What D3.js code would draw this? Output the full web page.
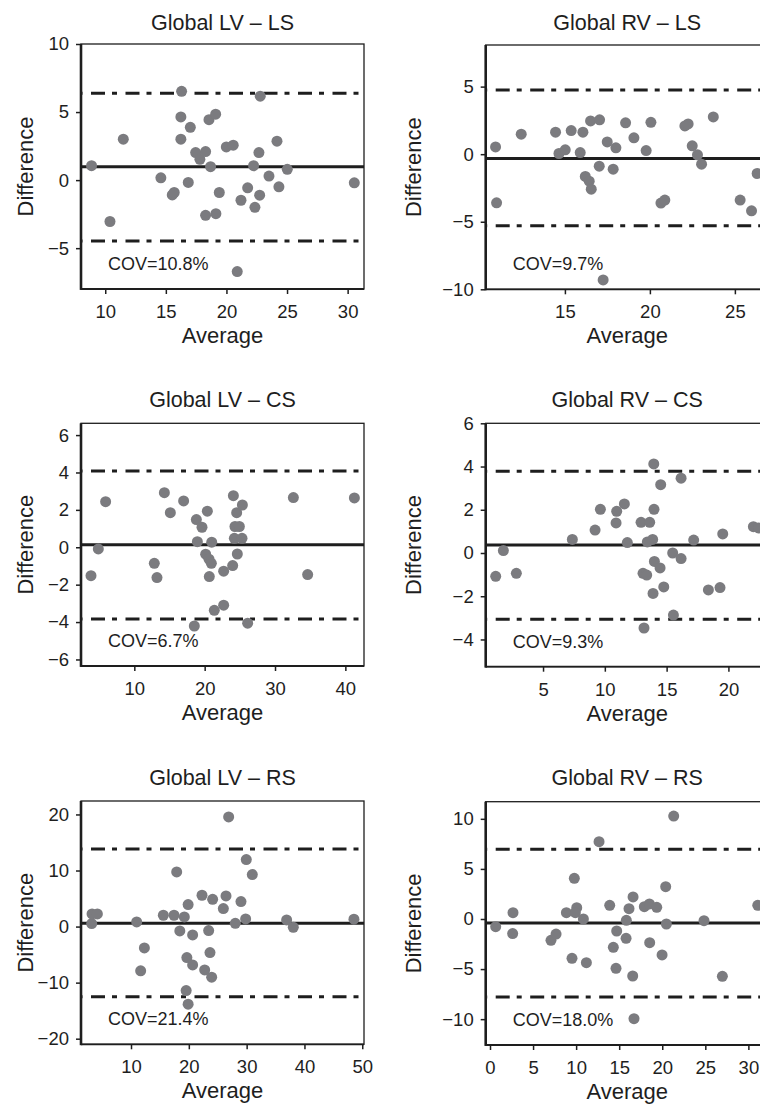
<!DOCTYPE html>
<html>
<head>
<meta charset="utf-8">
<script src="https://cdn.jsdelivr.net/npm/d3@7"></script>
<style>
html,body{margin:0;padding:0;background:#fff;overflow:hidden}
svg{display:block}
</style>
</head>
<body>
<svg id="chart" width="760" height="1105"></svg>
<script>
// ---------------- DATA ----------------
const panelTitles = ["Global LV \u2013 LS", "Global RV \u2013 LS", "Global LV \u2013 CS", "Global RV \u2013 CS", "Global LV \u2013 RS", "Global RV \u2013 RS"];
const covLabels = ["COV=10.8%", "COV=9.7%", "COV=6.7%", "COV=9.3%", "COV=21.4%", "COV=18.0%"];
const xAxisLabel = "Average";
const yAxisLabel = "Difference";

// Global LV - LS
const lvLsAvg  = [8.87,10.39,11.49,14.59,15.53,15.69,16.30,16.24,16.24,16.85,17.02,17.46,17.81,18.28,18.28,18.56,18.69,19.11,19.13,19.41,19.99,20.56,20.89,21.20,21.75,22.24,22.35,22.68,22.74,22.79,23.51,24.17,24.33,25.02,30.55];
const lvLsDiff = [1.06,-3.04,3.01,0.17,-1.09,-0.91,6.52,4.64,3.01,-0.17,3.88,2.02,1.53,2.10,-2.59,4.44,0.99,4.84,-2.47,-0.91,2.44,2.57,-6.72,-1.48,-0.57,1.06,-2.0,2.02,-1.11,6.17,0.30,2.86,-0.49,0.79,-0.20];
const lvLsLimits = [0.98, 6.39, -4.47]; // mean, upper, lower
const lvLsXTicks = [10,15,20,25,30];
const lvLsYTicks = [-5,0,5,10];

// Global RV - LS
const rvLsAvg  = [10.92,10.98,12.43,14.45,14.65,15.02,15.37,15.90,16.06,16.20,16.43,16.55,16.51,17.04,17.02,17.49,17.84,18.0,18.57,19.06,19.78,20.06,20.65,20.88,22.06,22.25,22.49,22.80,23.04,23.73,25.31,25.98,26.31,17.25];
const rvLsDiff = [0.54,-3.60,1.48,1.63,0.05,0.32,1.75,0.12,1.63,-1.65,-2.0,-2.59,2.46,2.54,-0.89,0.91,-1.11,0.47,2.32,1.21,0.27,2.36,-3.62,-3.40,2.09,2.24,0.62,-0.05,-0.74,2.76,-3.40,-4.19,-1.43,-9.31];
const rvLsLimits = [-0.32, 4.75, -5.30];
const rvLsXTicks = [15,20,25];
const rvLsYTicks = [-10,-5,0,5];

// Global LV - CS
const lvCsAvg  = [3.84,4.88,5.92,12.84,13.22,14.27,15.12,17.01,18.82,18.96,18.53,19.62,20.38,20.14,20.62,20.95,21.0,20.66,21.37,22.70,22.70,23.98,24.08,24.55,24.31,24.93,24.22,25.31,24.64,25.36,26.11,32.61,34.64,41.28];
const lvCsDiff = [-1.52,-0.09,2.44,-0.86,-1.62,2.92,1.85,2.48,1.48,0.30,-4.21,1.07,1.93,-0.37,-0.64,-0.86,0.27,-1.57,-3.37,-1.28,-3.10,-0.98,2.76,1.85,1.11,1.11,0.48,0.48,-0.36,2.26,-4.06,2.66,-1.46,2.64];
const lvCsLimits = [0.14, 4.08, -3.83];
const lvCsXTicks = [10,20,30,40];
const lvCsYTicks = [-6,-4,-2,0,2,4,6];

// Global RV - CS
const rvCsAvg  = [1.17,1.79,2.84,7.37,9.21,9.64,10.91,10.96,11.58,11.82,12.93,13.63,13.09,13.39,13.17,13.44,13.87,13.96,13.98,13.90,14.01,14.47,14.52,14.77,15.49,15.55,16.17,16.17,17.19,18.38,19.54,19.32,22.02,22.43];
const rvCsDiff = [-1.08,0.11,-0.94,0.63,1.06,2.02,1.39,1.93,2.27,0.48,1.42,1.42,-0.94,-1.02,-3.47,0.51,0.63,4.12,2.02,-1.87,-0.39,-0.69,3.16,-1.57,0.0,-2.87,3.46,-0.26,0.60,-1.71,0.88,-1.60,1.22,1.16];
const rvCsLimits = [0.37, 3.78, -3.06];
const rvCsXTicks = [5,10,15,20];
const rvCsYTicks = [-4,-2,0,2,4,6];

// Global LV - RS
const lvRsAvg  = [3.20,3.26,4.18,10.98,11.67,12.31,15.59,17.44,17.90,18.44,19.22,19.54,19.66,19.88,19.88,20.66,20.66,22.28,22.74,23.43,23.66,24.12,23.95,25.97,26.43,26.89,28.04,29.02,29.83,29.94,30.98,36.92,38.07,48.56];
const lvRsDiff = [0.53,2.26,2.26,0.83,-7.90,-3.80,2.02,2.02,9.75,-0.77,1.72,-11.41,-5.53,-13.85,3.92,-1.49,-6.84,5.59,-7.73,-0.71,-4.64,4.87,-9.03,3.21,5.47,19.55,0.59,4.46,1.37,11.95,9.27,1.19,-0.12,1.31];
const lvRsLimits = [0.59, 13.85, -12.54];
const lvRsXTicks = [10,20,30,40,50];
const lvRsYTicks = [-20,-10,0,10,20];

// Global RV - RS
const rvRsAvg  = [0.66,2.67,2.63,7.08,7.67,8.87,9.79,9.52,10.07,9.91,10.84,11.19,12.66,13.90,14.32,14.71,14.63,15.83,15.80,16.14,16.61,16.57,16.72,17.92,18.51,18.54,19.36,19.98,20.40,20.48,21.33,24.85,26.98,31.09];
const rvRsDiff = [-0.77,0.63,-1.46,-2.13,-1.50,0.63,4.06,-3.93,1.13,0.63,0.0,-4.36,7.72,1.36,-2.83,-1.20,-4.93,-0.13,-1.93,1.03,2.20,-5.69,-9.95,1.23,1.50,-2.36,1.16,-3.59,3.23,-0.50,10.28,-0.17,-5.72,1.36];
const rvRsLimits = [-0.40, 6.96, -7.79];
const rvRsXTicks = [0,5,10,15,20,25,30];
const rvRsYTicks = [-10,-5,0,5,10];

// ---------------- LAYOUT / SCALES CONFIG ----------------
const panels = [
  {avg: lvLsAvg, diff: lvLsDiff, lim: lvLsLimits, xt: lvLsXTicks, yt: lvLsYTicks, xd: [8.0, 31.35],  yd: [-8, 10],       left: 81,    top: 44,    bottom: 289,    titleY: 29.5, yLabX: 25},
  {avg: rvLsAvg, diff: rvLsDiff, lim: rvLsLimits, xt: rvLsXTicks, yt: rvLsYTicks, xd: [10.34, 26.99], yd: [-10, 8.08],    left: 485.7, top: 45,    bottom: 289.3,  titleY: 29.5, yLabX: 413.7},
  {avg: lvCsAvg, diff: lvCsDiff, lim: lvCsLimits, xt: lvCsXTicks, yt: lvCsYTicks, xd: [2.42, 42.65], yd: [-6.35, 6.63],  left: 81,    top: 423.3, bottom: 666,    titleY: 407,  yLabX: 25},
  {avg: rvCsAvg, diff: rvCsDiff, lim: rvCsLimits, xt: rvCsXTicks, yt: rvCsYTicks, xd: [0.36, 23.26], yd: [-5.26, 6],     left: 485.7, top: 423.3, bottom: 666.7,  titleY: 407,  yLabX: 413.7},
  {avg: lvRsAvg, diff: lvRsDiff, lim: lvRsLimits, xt: lvRsXTicks, yt: lvRsYTicks, xd: [1.35, 50.3],  yd: [-21, 22.4],    left: 81,    top: 801,   bottom: 1044.3, titleY: 785,  yLabX: 25},
  {avg: rvRsAvg, diff: rvRsDiff, lim: rvRsLimits, xt: rvRsXTicks, yt: rvRsYTicks, xd: [-0.5, 32.36], yd: [-12.58, 11.71],left: 485.7, top: 801.7, bottom: 1045,   titleY: 785,  yLabX: 413.7}
];
const boxW = 283;
const FONT = "'Liberation Sans', Arial, Helvetica, sans-serif";
const INK = "#1e1e1e";
const DOT = "#7b7b7f";

const svg = d3.select("#chart");
svg.append("rect").attr("width", 760).attr("height", 1105).attr("fill", "#fff");

const fmt = d => d < 0 ? "\u2212" + Math.abs(d) : String(d);

panels.forEach((p, i) => {
  const x = d3.scaleLinear().domain(p.xd).range([p.left, p.left + boxW]);
  const y = d3.scaleLinear().domain(p.yd).range([p.bottom, p.top]);
  const g = svg.append("g");

  // reference lines (mean, limits)
  const x0 = p.left, x1 = p.left + boxW;
  g.append("line")
    .attr("x1", x0).attr("x2", x1)
    .attr("y1", y(p.lim[0])).attr("y2", y(p.lim[0]))
    .attr("stroke", INK).attr("stroke-width", 3);
  [p.lim[1], p.lim[2]].forEach(v => {
    g.append("line")
      .attr("x1", x0).attr("x2", x1)
      .attr("y1", y(v)).attr("y2", y(v))
      .attr("stroke", INK).attr("stroke-width", 3)
      .attr("stroke-dasharray", "14,7,5,8.5")
      .attr("stroke-dashoffset", 24.5);
  });

  // frame
  g.append("rect")
    .attr("x", p.left).attr("y", p.top)
    .attr("width", boxW).attr("height", p.bottom - p.top)
    .attr("fill", "none").attr("stroke", INK).attr("stroke-width", 1.3);
  g.append("line").attr("x1", p.left).attr("x2", p.left).attr("y1", p.top).attr("y2", p.bottom + 0.9)
    .attr("stroke", INK).attr("stroke-width", 2.6);
  g.append("line").attr("x1", p.left).attr("x2", p.left + boxW).attr("y1", p.bottom).attr("y2", p.bottom)
    .attr("stroke", INK).attr("stroke-width", 1.8);

  // axes
  const ax = g.append("g").attr("transform", `translate(0,${p.bottom})`)
    .call(d3.axisBottom(x).tickValues(p.xt).tickFormat(fmt).tickSize(5).tickSizeOuter(0).tickPadding(11));
  const ay = g.append("g").attr("transform", `translate(${p.left},0)`)
    .call(d3.axisLeft(y).tickValues(p.yt).tickFormat(fmt).tickSize(5).tickSizeOuter(0).tickPadding(7));
  [ax, ay].forEach(a => {
    a.select(".domain").remove();
    a.selectAll(".tick line").attr("stroke", INK).attr("stroke-width", 1.5);
    a.selectAll(".tick text").attr("fill", INK)
      .style("font-family", FONT).style("font-size", "18.5px");
  });

  // points
  g.append("g").selectAll("circle")
    .data(p.avg.map((a, k) => [a, p.diff[k]]))
    .join("circle")
    .attr("cx", d => x(d[0])).attr("cy", d => y(d[1]))
    .attr("r", 5.5).attr("fill", DOT);

  // texts
  const cx = p.left + boxW / 2;
  g.append("text").attr("x", cx).attr("y", p.titleY)
    .attr("text-anchor", "middle").attr("fill", INK)
    .style("font-family", FONT).style("font-size", "21.5px")
    .text(panelTitles[i]);
  g.append("text").attr("x", cx).attr("y", p.bottom + 54)
    .attr("text-anchor", "middle").attr("fill", INK)
    .style("font-family", FONT).style("font-size", "22px")
    .text(xAxisLabel);
  g.append("text")
    .attr("transform", `translate(${p.yLabX},${(p.top + p.bottom) / 2}) rotate(-90)`)
    .attr("text-anchor", "middle").attr("dominant-baseline", "central").attr("fill", INK)
    .style("font-family", FONT).style("font-size", "22px")
    .text(yAxisLabel);
  g.append("text").attr("x", p.left + 27).attr("y", p.bottom - 19)
    .attr("fill", INK)
    .style("font-family", FONT).style("font-size", "18px")
    .text(covLabels[i]);
});
</script>
</body>
</html>
